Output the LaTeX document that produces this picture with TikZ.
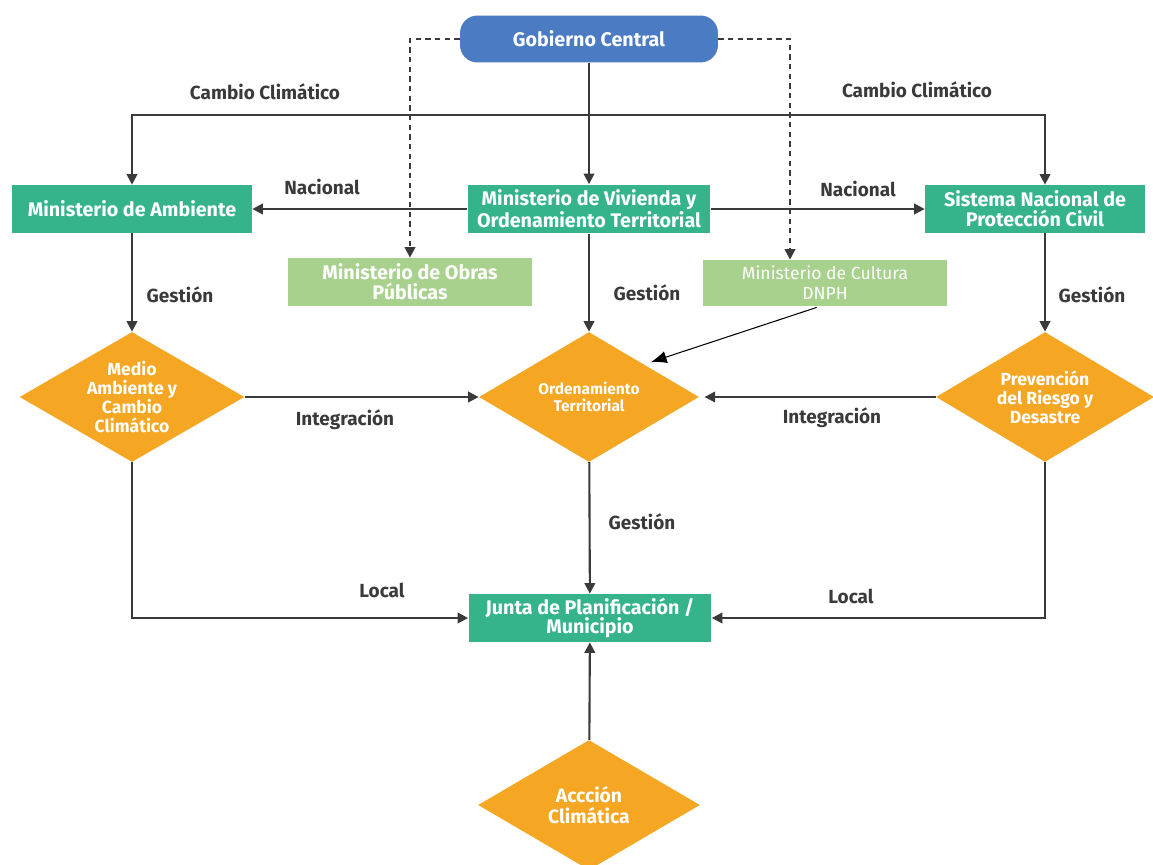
\documentclass[tikz,border=0pt]{standalone}
\usepackage{fontspec}
\setmainfont{Fira Sans}
\usetikzlibrary{shapes.geometric,arrows.meta}

\definecolor{azul}{HTML}{4A7BC3}
\definecolor{verde}{HTML}{35B48C}
\definecolor{verdeclaro}{HTML}{A8D18D}
\definecolor{naranja}{HTML}{F5A623}
\definecolor{gris}{HTML}{3A3A3A}

\tikzset{
    caja/.style={rectangle, fill=verde, text=white, align=center, inner sep=0pt,
        font=\bfseries\fontsize{11.2}{11.2}\selectfont},
    cajaclara/.style={caja, fill=verdeclaro},
    rombo/.style={diamond, fill=naranja, text=white, align=center, inner sep=-12pt,
        font=\bfseries\fontsize{10}{10.8}\selectfont},
    etiqueta/.style={text=gris, font=\bfseries\fontsize{10.8}{12}\selectfont},
    flecha/.style={draw=gris, line width=1.2pt, -{Triangle[length=6pt,width=6pt]}},
    punteada/.style={flecha, dash pattern=on 3pt off 2.5pt},
    fina/.style={draw=black, line width=0.6pt, -{Latex[length=9pt,width=7pt]}},
}

\begin{document}
\begin{tikzpicture}[x=0.02cm,y=-0.02cm]
    \useasboundingbox (0,0) rectangle (1153,865);

    \node[caja, fill=azul, rounded corners=0.35cm, minimum width=5.16cm, minimum height=0.94cm] (gob) at (589,39) {Gobierno Central};
    \coordinate (bus) at (589,115);

    \node[caja, minimum width=4.8cm, minimum height=0.96cm] (amb) at (132,209) {Ministerio de Ambiente};
    \node[caja, minimum width=4.86cm, minimum height=0.98cm] (viv) at (589,209) {Ministerio de Vivienda y\\Ordenamiento Territorial};
    \node[caja, minimum width=4.4cm, minimum height=0.96cm] (sis) at (1035,209) {Sistema Nacional de\\Protección Civil};

    \node[cajaclara, minimum width=4.88cm, minimum height=0.96cm] (obr) at (410,282) {Ministerio de Obras\\Públicas};
    \node[cajaclara, minimum width=4.9cm, minimum height=0.92cm, font=\fontsize{10}{11.5}\selectfont] (cul) at (825,283) {Ministerio de Cultura\\DNPH};

    \node[rombo, minimum width=4.5cm, minimum height=2.6cm] (med) at (132,397) {Medio\\Ambiente y\\Cambio\\Climático};
    \node[rombo, minimum width=4.4cm, minimum height=2.6cm, font=\bfseries\fontsize{8.8}{10}\selectfont] (ord) at (589,397) {Ordenamiento\\Territorial};
    \node[rombo, minimum width=4.36cm, minimum height=2.6cm] (pre) at (1045,397) {Prevención\\del Riesgo y\\Desastre};

    \node[caja, minimum width=4.86cm, minimum height=0.96cm] (jun) at (590,618) {Junta de Planificación /\\Municipio};
    \node[rombo, minimum width=4.44cm, minimum height=2.6cm, font=\bfseries\fontsize{11}{11.5}\selectfont] (acc) at (589,805) {Accción\\Climática};

    % desde el gobierno central
    \draw[flecha] (gob) -- (viv);
    \draw[flecha] (bus) -| (amb.north);
    \draw[flecha] (bus) -| ([xshift=0.2cm]sis.north);
    \draw[punteada] (gob.west) -| (obr.north);
    \draw[punteada] (gob.east) -| ([xshift=-0.7cm]cul.north);

    % nivel nacional
    \draw[flecha] (viv.west) -- (amb.east);
    \draw[flecha] (viv.east) -- (sis.west);

    % gestion e integracion
    \draw[flecha] (amb) -- (med);
    \draw[flecha] (viv) -- (ord);
    \draw[flecha] (pre.north |- sis.south) -- (pre.north);
    \draw[flecha] (med.east) -- (ord.west);
    \draw[flecha, shorten >=3pt] (pre.west) -- (ord.east);
    \draw[fina, shorten <=2pt, shorten >=4pt] ([xshift=-0.1cm]cul.south) -- (ord.north east);

    % nivel local
    \draw[flecha] (ord) -- (jun);
    \draw[flecha] (med.south) |- (jun.west);
    \draw[flecha] (pre.south) |- (jun.east);
    \draw[flecha] (acc) -- (jun);

    \node[etiqueta] (cc1) at (265,92) {Cambio Climático};
    \node[etiqueta] (cc2) at (917,90) {Cambio Climático};
    \node[etiqueta] (na1) at (322,187) {Nacional};
    \node[etiqueta] (na2) at (858,189) {Nacional};
    \foreach \n/\x/\y in {ge1/180/295, ge2/647/293, ge3/1092/295, ge4/642/522}
        \node[etiqueta] (\n) at (\x,\y) {Gestión};
    \node[etiqueta] (in1) at (345,420) {Integración};
    \node[etiqueta] (in2) at (832,418) {Integración};
    \node[etiqueta] (lo1) at (382,590) {Local};
    \node[etiqueta] (lo2) at (851,596) {Local};
\end{tikzpicture}
\end{document}
